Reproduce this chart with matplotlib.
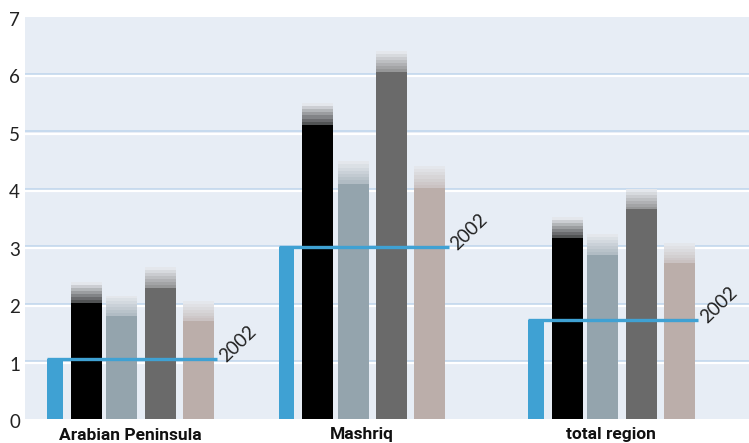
import numpy as np
import matplotlib.pyplot as plt
import matplotlib.transforms as mtransforms
from matplotlib.colors import to_rgb

regions = ['Arabian Peninsula', 'Mashriq', 'total region']
base_2002 = [1.04, 2.99, 1.72]

# solid part and top of the faded range for each of the four scenario bars
solid = {
    'black': [2.01, 5.11, 3.15],
    'bluegray': [1.79, 4.09, 2.85],
    'darkgray': [2.27, 6.03, 3.64],
    'rose': [1.69, 4.02, 2.70],
}
upper = {
    'black': [2.37, 5.50, 3.51],
    'bluegray': [2.14, 4.48, 3.22],
    'darkgray': [2.64, 6.40, 4.00],
    'rose': [2.05, 4.39, 3.06],
}
yticks = [0, 1, 2, 3, 4, 5, 6, 7]

colors = {'black': '#000000', 'bluegray': '#94a4ad',
          'darkgray': '#6a6a6a', 'rose': '#bbaeaa'}
offsets = {'black': -0.19, 'bluegray': -0.035, 'darkgray': 0.13, 'rose': 0.294}
blue = '#3fa1d3'
bg = '#e7edf5'
fade_to = np.array(to_rgb('#e4e7ec'))

group_x = np.array([0.0, 1.0, 2.078])
bar_w = 0.134

fig = plt.figure(figsize=(7.49, 4.43), dpi=100)
ax = fig.add_axes([25 / 749, 24.5 / 443, 724 / 749, 402 / 443])
ax.set_facecolor(bg)
ax.set_xlim(-0.4536, 2.674)
ax.set_ylim(0, 7)

# double gridlines: light blue with a white line just below
white_tr = mtransforms.offset_copy(ax.transData, fig=fig, x=0, y=-2.2, units='dots')
for t in yticks[1:-1]:
    ax.axhline(t, color='#c4d9ee', lw=1.3, zorder=1)
    ax.plot([-1, 3], [t, t], color='white', lw=1.6, zorder=1, transform=white_tr)

for key in solid:
    xs = group_x + offsets[key]
    ax.bar(xs, solid[key], width=bar_w, color=colors[key], zorder=3, linewidth=0)
    c0 = np.array(to_rgb(colors[key]))
    n = 7
    for i in range(n):
        t = 0.25 + 0.75 * (i + 1) / n
        col = c0 * (1 - t) + fade_to * t
        lo = [s + (u - s) * i / n for s, u in zip(solid[key], upper[key])]
        hi = [s + (u - s) * (i + 1) / n for s, u in zip(solid[key], upper[key])]
        ax.bar(xs, np.array(hi) - np.array(lo), bottom=lo, width=bar_w,
               color=col, zorder=3, linewidth=0)

# 2002 reference: thin blue bar plus line across the group
blue_left = group_x - 0.3585
ax.bar(blue_left, base_2002, width=0.069, align='edge', color=blue, zorder=4, linewidth=0)
line_end = group_x + 0.376
txt_tr = mtransforms.offset_copy(ax.transData, fig=fig, x=9, y=-4, units='dots')
for x0, x1, v in zip(blue_left, line_end, base_2002):
    ax.plot([x0, x1], [v, v], color=blue, lw=2.4, zorder=5, solid_capstyle='butt')
    ax.text(x1, v, '2002', transform=txt_tr, rotation=44, rotation_mode='anchor',
            ha='left', va='baseline', fontsize=13.5, family='Lato', color='#222222')

# y tick labels, sitting a little below each gridline
ax.set_yticks([])
ax.set_xticks([])
lab_tr = mtransforms.offset_copy(
    mtransforms.blended_transform_factory(ax.transAxes, ax.transData),
    fig=fig, x=-5, y=-4, units='dots')
for t in yticks:
    ax.text(0, t, str(t), transform=lab_tr, ha='right', va='center',
            fontsize=13.5, family='Lato', color='#222222', clip_on=False)
for s in ax.spines.values():
    s.set_visible(False)

name_tr = mtransforms.blended_transform_factory(ax.transData, fig.transFigure)
for x, name in zip(group_x, regions):
    ax.text(x, 3.5 / 443, name, transform=name_tr, ha='center', va='baseline',
            fontsize=12.5, fontweight='bold', fontstretch='condensed',
            family='Roboto', color='#111111')

fig.savefig('out.png', dpi=100)
